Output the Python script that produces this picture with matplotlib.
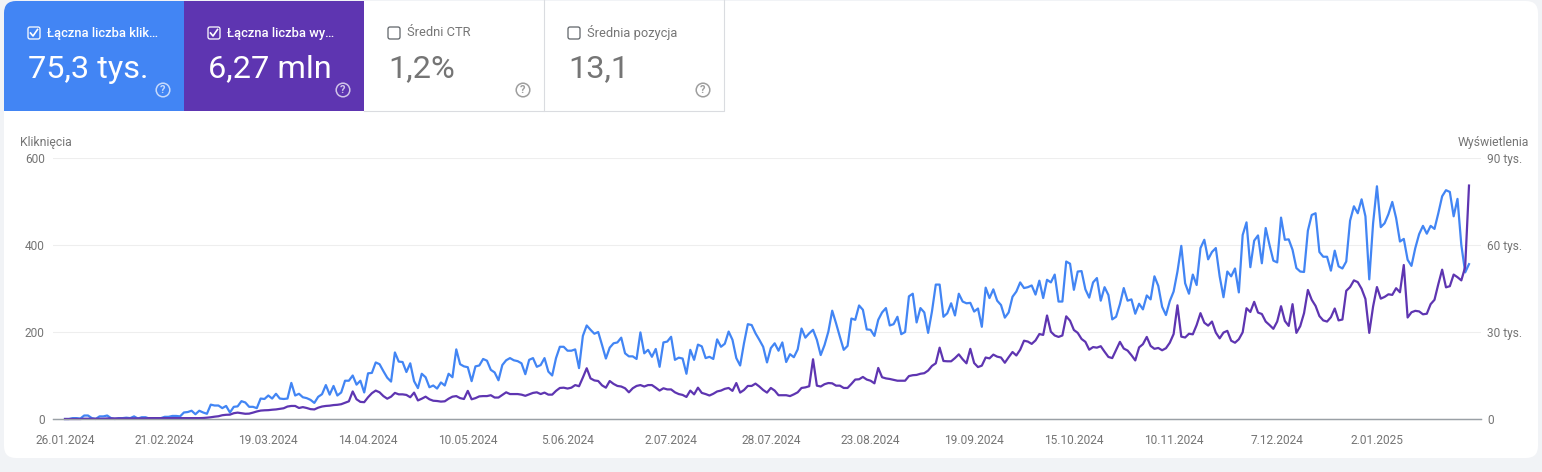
import matplotlib
matplotlib.use("Agg")
import matplotlib.pyplot as plt
from matplotlib.patches import FancyBboxPatch, Rectangle, Circle
import numpy as np
import pandas as pd

plt.rcParams['font.family'] = ['Roboto', 'DejaVu Sans']

W, H = 1542, 472

# Kliknięcia, dzień po dniu
clicks = [
    0, 0, 2, 2, 1, 8, 8, 2, 0, 6, 6, 8, 2, 0, 2, 2, 3, 2, 6, 1, 4, 4, 1, 2, 1, 2, 5, 5, 7, 7,
    6, 15, 16, 19, 11, 19, 15, 12, 33, 31, 31, 25, 30, 15, 28, 29, 41, 38, 28, 28, 25, 47, 46, 54, 47, 58, 47, 46, 47, 83,
    54, 58, 50, 48, 44, 37, 51,
    57, 78, 56, 76, 54, 61, 88, 88, 100, 79, 88, 61, 105, 106, 130, 126, 110, 95, 86, 153, 132, 131, 108, 128, 87, 71, 104, 96,
    73, 77, 70, 84, 77, 104, 96, 160, 126, 121, 119, 87, 121, 123, 138, 134, 113, 107, 89, 124, 135, 140, 135, 133, 128, 103,
    136, 140, 120, 124, 140, 109, 100, 140, 166, 166, 157, 157,
    160, 117, 191, 215, 205, 196, 200, 170, 139, 164, 174, 176, 187, 151, 144, 144, 138, 199, 151, 159, 143, 161, 120, 176, 178, 189,
    136, 141, 139, 104, 159, 136, 171, 167, 140, 143, 138, 183, 166, 173, 201, 182, 140, 123, 174, 218, 216, 197, 182, 166,
    130, 163, 174, 157, 176, 131, 149, 142, 160, 208, 187, 197, 205, 182, 147,
    170, 201, 249, 220, 189, 159, 168, 231, 228, 261, 251, 206, 205, 191, 228, 245, 255, 215, 218, 235, 195, 200, 282, 288, 222, 255,
    245, 198, 247, 309, 309, 235, 243, 266, 238, 288, 270, 266, 267, 247, 254, 212, 302, 278, 298, 272, 262, 233, 245, 281,
    293, 314, 301, 303, 307, 286, 318, 278, 320, 314,
    332, 270, 270, 362, 357, 297, 339, 340, 298, 279, 314, 324, 272, 303, 285, 229, 235, 264, 301, 272, 275, 242, 265, 252, 284, 275,
    328, 306, 258, 239, 271, 293, 339, 398, 312, 288, 332, 308, 393, 412, 367, 384, 393, 328, 280, 339, 328, 346, 291, 423,
    452, 349, 410, 422, 358,
    439, 400, 364, 360, 463, 412, 413, 389, 347, 339, 338, 433, 469, 473, 384, 373, 373, 341, 387, 351, 346, 362, 456, 489, 473, 505,
    466, 321, 450, 535, 441, 450, 471, 499, 462, 408, 414, 366, 352, 393, 425, 444, 426, 444, 437, 473, 512, 526, 522, 466,
    506, 400, 337, 356,
]

# Wyświetlenia w tysiącach
impressions = [
    0, 0, 0, 0, 0, .1, .1, .1, .1, .1, .1, .2, .2, .2, .2, .2, .2, .2, .2, .2, .2, .2, .3, .3, .3, .3, .3, .3, .3, .3,
    .3, .3, .3, .3, .3, .3,
    .35, .45, .6, .8, .95, 1.3, 1.45, 1.5, 2.0, 2.2, 2.0, 1.8, 1.85, 2.2, 2.6, 2.9, 3.0, 3.05, 3.2, 3.3, 3.5, 3.7, 4.3, 4.5,
    4.5, 3.8, 4.1, 3.8, 3.4, 3.3, 3.9,
    4.3, 4.5, 4.6, 4.8, 4.9, 5.1, 5.6, 6.1, 9.5, 6.8, 5.9, 5.8, 7.5, 8.9, 9.8, 9.2, 7.9, 7.0, 7.7, 9.0, 8.5, 8.5, 8.3, 7.5,
    9.1, 6.4, 7.0, 7.7, 6.8, 6.3, 6.2, 6.0, 6.1, 7.0, 7.7, 7.9, 7.2, 6.9, 9.7, 6.8, 7.2, 7.8, 7.9, 7.9, 8.2, 7.4, 7.4, 8.3,
    9.2, 8.6, 8.6, 8.6, 8.4, 8.0, 8.5, 9.0, 9.2, 8.6, 9.1, 8.4, 8.4, 9.7, 10.7, 10.8, 10.5, 10.8,
    11.7, 11.3, 14.3, 17.5, 14.0, 13.3, 13.1, 11.6, 10.8, 13.1, 12.1, 11.4, 11.2, 10.6, 9.2, 10.6, 11.4, 11.7, 11.2, 11.7, 11.7, 10.8,
    9.8, 10.6, 10.2, 10.2, 9.2, 8.6, 8.3, 7.6, 9.8, 8.5, 10.8, 9.0, 8.6, 8.1, 8.7, 9.5, 9.8, 10.4, 10.7, 9.7, 12.4, 9.1,
    10.0, 11.4, 11.4, 12.2, 11.2, 10.0, 9.1, 10.7, 9.8, 8.2, 8.2, 8.2, 7.9, 8.5, 9.2, 10.7, 10.9, 11.3, 20.6, 11.5, 11.2,
    12.0, 12.4, 12.3, 11.5, 11.5, 10.7, 10.7, 12.1, 13.6, 13.7, 14.5, 13.6, 13.2, 12.3, 17.6, 14.4, 14.0, 13.8, 13.5, 13.2, 13.2, 13.2,
    14.8, 15.1, 15.2, 15.6, 15.8, 16.7, 18.3, 19.2, 24.6, 20.0, 19.9, 19.9, 21.0, 22.3, 20.6, 19.2, 24.2, 19.3, 17.9, 18.4,
    21.2, 20.9, 22.2, 21.5, 21.2, 19.4, 21.3, 23.1, 21.9, 23.9, 27.0, 26.7, 25.9, 27.1, 29.3, 29.0, 35.7, 30.1,
    28.8, 28.3, 28.8, 35.4, 33.9, 30.7, 29.7, 27.6, 26.6, 23.9, 24.8, 24.6, 25.1, 23.2, 21.4, 21.0, 23.8, 26.6, 24.3, 23.6, 22.0, 20.2,
    24.7, 25.8, 28.3, 25.2, 24.2, 24.5, 23.7, 24.4, 26.3, 29.3, 39.2, 28.4, 28.1, 29.4, 29.2, 32.4, 36.5, 33.2, 32.2, 33.6,
    29.8, 27.8, 29.8, 30.4, 27.0, 26.3, 27.5, 29.9, 38.2, 36.9, 40.4, 36.7, 36.2,
    33.6, 32.4, 31.1, 33.6, 38.9, 33.8, 32.1, 39.6, 29.7, 32.0, 36.5, 44.5, 41.1, 39.0, 35.5, 34.0, 33.6, 35.1, 38.1, 34.0, 34.3, 44.2,
    45.5, 47.8, 47.2, 44.9, 41.4, 29.7, 38.8, 45.5, 41.5, 42.1, 43.0, 42.8, 45.1, 43.7, 53.1, 35.0, 36.8, 37.3, 37.1, 36.1,
    36.3, 39.6, 41.1, 46.5, 51.5, 45.4, 45.8, 49.8, 48.9, 47.8, 52.4, 80.5,
]

tick_dates = ['2024-01-26', '2024-02-21', '2024-03-19', '2024-04-14', '2024-05-10', '2024-06-05', '2024-07-02',
              '2024-07-28', '2024-08-23', '2024-09-19', '2024-10-15', '2024-11-10', '2024-12-07', '2025-01-02']
tick_labels = ['26.01.2024', '21.02.2024', '19.03.2024', '14.04.2024', '10.05.2024', '5.06.2024', '2.07.2024',
               '28.07.2024', '23.08.2024', '19.09.2024', '15.10.2024', '10.11.2024', '7.12.2024', '2.01.2025']

left_ticks = [0, 200, 400, 600]
right_ticks = [0, 30, 60, 90]
right_labels = ['0', '30 tys.', '60 tys.', '90 tys.']

tile_titles = ['Łączna liczba klik…', 'Łączna liczba wy…', 'Średni CTR', 'Średnia pozycja']
tile_values = ['75,3 tys.', '6,27 mln', '1,2%', '13,1']

BLUE = '#4285f4'
PURPLE = '#5e35b1'
GREY = '#757575'

fig = plt.figure(figsize=(W / 100, H / 100), dpi=100, facecolor='#f1f3f6')

# warstwa w pikselach: karta i kafelki
bg = fig.add_axes([0, 0, 1, 1])
bg.set_xlim(0, W)
bg.set_ylim(H, 0)
bg.axis('off')

card = FancyBboxPatch((4, 1), W - 8, 457, boxstyle='round,pad=0,rounding_size=12', fc='white', ec='none')
bg.add_patch(card)

tile_x = [4, 184, 364, 544]
tile_fc = [BLUE, PURPLE, 'white', 'white']
for i in range(4):
    x = tile_x[i]
    r = Rectangle((x, 0), 180, 111, fc=tile_fc[i], ec='none')
    bg.add_patch(r)
    r.set_clip_path(card)
    selected = i < 2
    if not selected:
        bg.plot([x, x + 179.5, x + 179.5], [110.5, 110.5, 0], color='#dadce0', lw=0.8)
    fg = 'white' if selected else GREY
    # checkbox
    box = FancyBboxPatch((x + 24, 27), 12, 12, boxstyle='round,pad=0,rounding_size=2',
                         fc='none', ec='white' if selected else '#5f6368', lw=0.9)
    bg.add_patch(box)
    if selected:
        bg.plot([x + 26.5, x + 29, x + 33.5], [33, 36, 29.5], color='white', lw=1.2)
    bg.text(x + 43, 33, tile_titles[i], color=fg, fontsize=9.3, va='center', ha='left',
            fontweight='medium' if selected else 'normal')
    bg.text(x + 24, 69, tile_values[i], color=fg, fontsize=23.4, va='center', ha='left')
    # ikonka pomocy
    ic = '#c6dafc' if i == 0 else ('#d1c4e9' if i == 1 else '#9e9e9e')
    bg.add_patch(Circle((x + 159, 90), 6.8, fc='none', ec=ic, lw=1.1))
    bg.text(x + 159, 90.3, '?', color=ic, fontsize=8, fontweight='bold', ha='center', va='center')

bg.text(20, 142.5, 'Kliknięcia', color=GREY, fontsize=8.8, ha='left', va='center')
bg.text(1529.5, 142.5, 'Wyświetlenia', color=GREY, fontsize=8.8, ha='right', va='center')

# wykres
y0, y600 = 419, 158
ax_left, ax_right = 53, 1481
ax = fig.add_axes([ax_left / W, 1 - y0 / H, (ax_right - ax_left) / W, (y0 - y600) / H])
ax.patch.set_alpha(0)

dates = pd.date_range('2024-01-26', periods=len(clicks), freq='D')
day = 1404 / (len(clicks) - 1)
pad_l = pd.Timedelta(days=(65 - ax_left) / day)
pad_r = pd.Timedelta(days=(ax_right - 1469) / day)
ax.set_xlim(dates[0] - pad_l, dates[-1] + pad_r)
ax.set_ylim(0, 600)

ax2 = ax.twinx()
ax2.set_ylim(0, 90)
ax2.patch.set_alpha(0)

ax.plot(dates, clicks, color=BLUE, lw=1.6, clip_on=False, solid_joinstyle='round')
ax2.plot(dates, impressions, color=PURPLE, lw=1.6, clip_on=False, solid_joinstyle='round')

ax.set_yticks(left_ticks)
ax.grid(axis='y', color='#eeeeee', lw=0.8)
ax.set_axisbelow(True)
ax.set_xticks(pd.to_datetime(tick_dates))
ax.set_xticklabels(tick_labels)
ax.tick_params(axis='x', length=0, pad=11, labelsize=8.6, labelcolor=GREY)
ax.tick_params(axis='y', length=0, pad=6, labelsize=8.6, labelcolor=GREY)

ax2.set_yticks(right_ticks)
ax2.set_yticklabels(right_labels)
ax2.tick_params(axis='y', length=0, pad=4.5, labelsize=8.6, labelcolor=GREY)

for a in (ax, ax2):
    for s in ('top', 'left', 'right'):
        a.spines[s].set_visible(False)
    a.spines['bottom'].set_color('#9aa0a6')
    a.spines['bottom'].set_linewidth(0.9)

fig.savefig('out.png', dpi=100, facecolor=fig.get_facecolor())
